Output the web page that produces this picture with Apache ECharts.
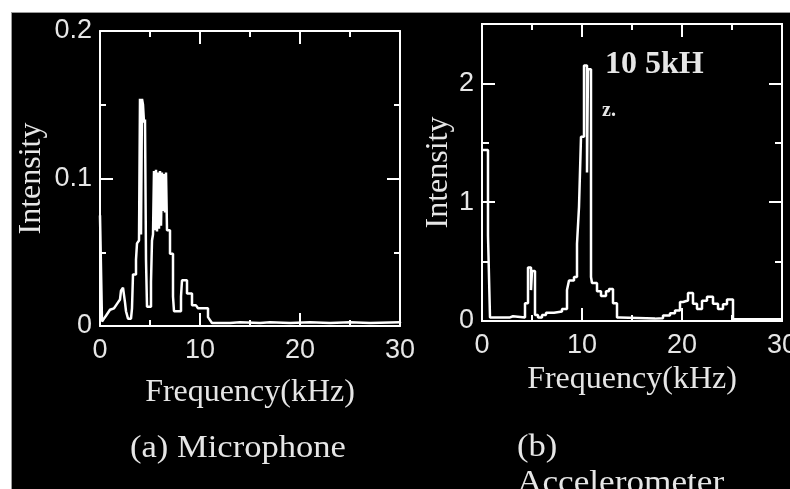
<!DOCTYPE html>
<html>
<head>
<meta charset="utf-8">
<script src="https://cdn.jsdelivr.net/npm/echarts@6/dist/echarts.min.js"></script>
<style>
    html,body{margin:0;padding:0;background:#fff;}
    #wrap{position:relative;width:790px;height:489px;background:#fff;overflow:hidden;}
    #board{position:absolute;left:11px;top:12px;width:779px;height:477px;background:#000;border-top:1px solid #9a9a9a;border-left:1px solid #9a9a9a;box-sizing:border-box;}
    #chart{position:absolute;left:0;top:0;width:790px;height:489px;}
</style>
</head>
<body>
<div id="wrap">
    <div id="board"></div>
    <div id="chart"></div>
</div>
<script>
//(a) 麦克风频谱
var micFreq = [0.0,0.2,0.4,0.6,0.8,1.0,1.2,1.4,1.6,1.8,2.0,2.1,2.3,2.5,2.6,2.8,3.1,3.2,3.3,3.6,3.7,3.9,
    4.0,4.1,4.2,4.3,4.4,4.5,4.6,4.7,5.1,5.2,5.3,5.4,5.5,5.6,5.7,5.8,5.9,6.0,6.1,6.2,6.3,6.4,6.5,6.6,6.7,
    7.0,7.3,7.4,8.1,8.2,8.7,9.2,9.6,9.8,10.8,11.0,11.2,11.5,13.0,14.0,16.0,17.0,19.0,21.0,23.0,25.0,27.0,30.0];
var micIntensity = [0.075,0.003,0.005,0.007,0.009,0.011,0.012,0.013,0.014,0.016,0.018,0.024,0.026,0.016,0.010,0.005,0.006,0.012,0.035,0.045,0.056,0.058,
    0.154,0.062,0.154,0.150,0.138,0.140,0.045,0.013,0.030,0.058,0.062,0.105,0.065,0.106,0.064,0.104,0.066,0.105,0.068,0.104,0.078,0.103,0.077,0.104,0.065,
    0.049,0.020,0.010,0.020,0.031,0.022,0.014,0.015,0.012,0.006,0.004,0.002,0.002,0.0025,0.002,0.0025,0.002,0.0025,0.002,0.0025,0.002,0.0025,0.002];
//(b) 加速度计频谱
var accFreq = [0.0,0.6,0.8,1.3,1.5,2.8,3.1,4.3,4.6,4.9,5.0,5.3,5.6,6.0,6.4,7.2,8.0,8.5,8.7,9.2,9.5,9.7,9.9,
    10.2,10.5,10.6,10.9,11.0,11.5,11.9,12.4,12.7,13.1,13.5,13.8,17.3,18.1,18.8,19.3,19.8,20.1,20.6,21.1,21.5,
    22.0,22.5,23.1,23.6,24.1,24.5,25.1,30.0];
var accIntensity = [1.44,0.72,0.03,0.04,0.03,0.04,0.03,0.15,0.45,0.26,0.42,0.05,0.03,0.05,0.07,0.08,0.10,0.26,0.34,0.37,0.65,0.96,1.55,
    2.15,1.25,2.12,0.37,0.32,0.25,0.21,0.25,0.27,0.15,0.03,0.02,0.024,0.046,0.066,0.089,0.16,0.173,0.235,0.145,0.10,
    0.17,0.205,0.145,0.10,0.14,0.18,0.015,0.015];

var lineColor = '#ffffff',
    textColor = '#e6e6e6',
    serif = 'Liberation Serif',
    sans = 'Liberation Sans';

function pairs(xs, ys) {
    var arr = [];
    for (var i = 0; i < xs.length; i++) {
        arr.push([xs[i], ys[i]]);
    }
    return arr;
}
//x轴
function freqAxis(grid, pos, withLabel, nameGap) {
    return {
        type: 'value', gridIndex: grid, position: pos,
        min: 0, max: 30, interval: 10,
        name: withLabel ? 'Frequency(kHz)' : '',
        nameLocation: 'middle', nameGap: nameGap,
        nameTextStyle: {color: textColor, fontFamily: serif, fontSize: 32},
        axisLine: {show: true, onZero: false, lineStyle: {color: lineColor, width: 2}},
        axisTick: {show: true, inside: true, length: 13, lineStyle: {color: lineColor, width: 2}},
        minorTick: {show: true, splitNumber: 2, length: 6, lineStyle: {color: lineColor, width: 2}},
        axisLabel: {show: withLabel, color: textColor, fontFamily: sans, fontSize: 27, margin: 11},
        splitLine: {show: false}
    };
}
//y轴
function valAxis(grid, pos, max, interval, tickLen, withLabel, minor, nameGap) {
    var o = {
        type: 'value', gridIndex: grid, position: pos,
        min: 0, max: max, interval: interval,
        axisLine: {show: true, onZero: false, lineStyle: {color: lineColor, width: 2}},
        axisTick: {show: true, inside: true, length: tickLen, lineStyle: {color: lineColor, width: 2}},
        minorTick: {show: !!minor, splitNumber: 2, length: 6, lineStyle: {color: lineColor, width: 2}},
        axisLabel: {show: withLabel, color: textColor, fontFamily: sans, fontSize: 27, margin: 8, showMaxLabel: max != 2.5},
        splitLine: {show: false}
    };
    if (withLabel) {
        o.name = 'Intensity';
        o.nameLocation = 'middle';
        o.nameRotate = 90;
        o.nameGap = nameGap;
        o.nameTextStyle = {color: textColor, fontFamily: serif, fontSize: 32};
    }
    return o;
}

var chart = echarts.init(document.getElementById('chart'));
var option = {
    animation: false,
    backgroundColor: 'transparent',
    grid: [
        {left: 100, top: 31, width: 300, height: 295, outerBoundsMode: 'none', containLabel: false},
        {left: 482, top: 24, width: 300, height: 297, outerBoundsMode: 'none', containLabel: false}
    ],
    xAxis: [
        freqAxis(0, 'bottom', true, 51),
        freqAxis(0, 'top', false, 0),
        freqAxis(1, 'bottom', true, 43),
        freqAxis(1, 'top', false, 0)
    ],
    yAxis: [
        valAxis(0, 'left', 0.2, 0.1, 13, true, true, 52),
        valAxis(0, 'right', 0.2, 0.1, 13, false, true),
        valAxis(1, 'left', 2.5, 1, 13, true, false, 27),
        valAxis(1, 'left', 2.5, 0.5, 7, false, false),
        valAxis(1, 'right', 2.5, 1, 13, false, false),
        valAxis(1, 'right', 2.5, 0.5, 7, false, false)
    ],
    series: [
        {
            name: 'Microphone', type: 'line', step: 'end',
            xAxisIndex: 0, yAxisIndex: 0,
            showSymbol: false, lineStyle: {color: lineColor, width: 2.5},
            data: pairs(micFreq, micIntensity)
        },
        {
            name: 'Accelerometer', type: 'line', step: 'end',
            xAxisIndex: 2, yAxisIndex: 2,
            showSymbol: false, lineStyle: {color: lineColor, width: 2.5},
            data: pairs(accFreq, accIntensity)
        }
    ],
    graphic: [
        {type: 'text', x: 130, y: 433, scaleX: 1.08, style: {text: '(a) Microphone', fill: textColor, font: '32px "Liberation Serif"'}},
        {type: 'text', x: 517, y: 432, scaleX: 1.08, style: {text: '(b)', fill: textColor, font: '32px "Liberation Serif"'}},
        {type: 'text', x: 517, y: 468, scaleX: 1.1, style: {text: 'Accelerometer', fill: textColor, font: '32px "Liberation Serif"'}},
        {type: 'text', x: 605, y: 49, style: {text: '10 5kH', fill: textColor, font: 'bold 32px "Liberation Serif"'}},
        {type: 'text', x: 602, y: 101, style: {text: 'z.', fill: textColor, font: 'bold 20px "Liberation Serif"'}}
    ]
};
chart.setOption(option);
</script>
</body>
</html>
